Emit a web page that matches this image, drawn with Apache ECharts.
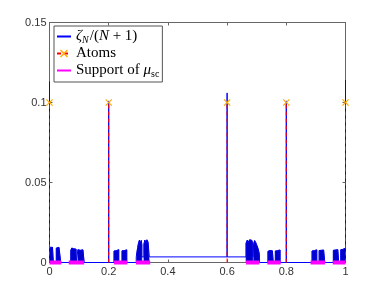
<!DOCTYPE html>
<html>
<head>
<meta charset="utf-8">
<script src="https://cdn.jsdelivr.net/npm/echarts@6/dist/echarts.min.js"></script>
<style>html,body{margin:0;padding:0;background:#fff;}#c{width:382px;height:295px;}</style>
</head>
<body>
<div id="c"></div>
<script>
// ---- data ----
const xTickInterval = 0.2;
const yTickInterval = 0.05;
const xRange = [0, 1];
const yRange = [0, 0.15];

const atomX = [0, 0.2, 0.6, 0.8, 1];
const atomY = [0.1, 0.1, 0.1, 0.1, 0.1];
// height reached by the zeta_N/(N+1) curve at each atom
const spikeY = [0.113, 0.101, 0.106, 0.101, 0.114];

// small constant level of the curve in the middle
const plateauX = [0.293, 0.709];
const plateauY = 0.0035;

// support of mu_sc (intervals on y = 0)
const supportStart = [0.000, 0.065, 0.218, 0.292, 0.664, 0.736, 0.882, 0.957];
const supportEnd   = [0.040, 0.117, 0.263, 0.340, 0.709, 0.781, 0.931, 1.000];

// upper envelopes of the dense oscillating clusters of the curve
const clusters = [
  [[0.000,0.0095],[0.003,0.0080],[0.005,0.0098],[0.008,0.0084],[0.010,0.0097],[0.013,0.0088]],
  [[0.023,0.0090],[0.026,0.0098],[0.029,0.0082],[0.032,0.0095],[0.035,0.0087],[0.038,0.0083]],
  [[0.072,0.0076],[0.075,0.0090],[0.079,0.0078],[0.082,0.0086],[0.086,0.0079],[0.090,0.0083]],
  [[0.096,0.0080],[0.100,0.0087],[0.104,0.0076],[0.108,0.0085],[0.113,0.0079],[0.117,0.0085]],
  [[0.218,0.0072],[0.221,0.0080],[0.225,0.0073],[0.228,0.0081],[0.231,0.0075],[0.234,0.0080]],
  [[0.245,0.0073],[0.248,0.0081],[0.252,0.0074],[0.255,0.0080],[0.258,0.0076],[0.261,0.0079]],
  [[0.295,0.0060],[0.298,0.0095],[0.301,0.0125],[0.304,0.0140],[0.307,0.0118],[0.310,0.0138],[0.312,0.0110]],
  [[0.319,0.0115],[0.322,0.0140],[0.326,0.0124],[0.329,0.0142],[0.333,0.0127],[0.337,0.0135]],
  [[0.664,0.0120],[0.668,0.0140],[0.672,0.0127],[0.676,0.0142],[0.680,0.0133],[0.684,0.0138],[0.687,0.0105]],
  [[0.690,0.0120],[0.693,0.0137],[0.697,0.0124],[0.700,0.0110],[0.704,0.0090],[0.707,0.0070],[0.709,0.0050]],
  [[0.738,0.0070],[0.741,0.0082],[0.745,0.0075],[0.749,0.0081],[0.753,0.0073],[0.756,0.0079]],
  [[0.763,0.0072],[0.766,0.0081],[0.770,0.0074],[0.773,0.0080],[0.776,0.0075],[0.779,0.0078]],
  [[0.887,0.0072],[0.890,0.0081],[0.894,0.0074],[0.897,0.0080],[0.900,0.0075],[0.903,0.0079]],
  [[0.911,0.0075],[0.914,0.0085],[0.918,0.0076],[0.922,0.0086],[0.926,0.0078],[0.930,0.0084]],
  [[0.959,0.0076],[0.962,0.0087],[0.966,0.0078],[0.970,0.0086],[0.974,0.0080],[0.977,0.0085]],
  [[0.984,0.0080],[0.987,0.0090],[0.991,0.0082],[0.994,0.0092],[0.997,0.0084],[1.000,0.0090]]
];

// ---- build series data ----
function base(x){ return (x >= plateauX[0] && x < plateauX[1]) ? plateauY : 0; }
const events = [];
atomX.forEach((x,i)=>{ const b = base(x); events.push({x:x, k:0, pts:[[x,b],[x,spikeY[i]],[x,b]]}); });
clusters.forEach(c=>{
  const x0 = c[0][0], x1 = c[c.length-1][0];
  events.push({x:x0, k:1, pts:[[x0,base(x0)]].concat(c.map(p=>[p[0],p[1]])).concat([[x1,base(x1)]])});
});
events.push({x:plateauX[0], k:0, pts:[[plateauX[0],0],[plateauX[0],plateauY]]});
events.sort((a,b)=> a.x-b.x || a.k-b.k);
const zetaData = [];
events.forEach(e=> e.pts.forEach(p=> zetaData.push(p)));

const fillData = [];
clusters.forEach(c=>{
  const x0 = c[0][0], x1 = c[c.length-1][0];
  fillData.push([x0,0]); c.forEach(p=>fillData.push([p[0],p[1]])); fillData.push([x1,0]); fillData.push(null);
});

// the atoms are stems from 0 to their mass
const xMark = 'path://M0,1.2 L1.2,0 L5,3.8 L8.8,0 L10,1.2 L6.2,5 L10,8.8 L8.8,10 L5,6.2 L1.2,10 L0,8.8 L3.8,5 Z';
const atomData = [];
atomX.forEach((x,i)=>{
  atomData.push({value:[x,0], symbol:'none'});
  atomData.push({value:[x,atomY[i]]});
  atomData.push(null);
});

const supportData = [];
supportStart.forEach((s,i)=>{ supportData.push([s,0]); supportData.push([supportEnd[i],0]); supportData.push(null); });

// ---- layout ----
// visible frame: x 0..1 spans 296 px starting at 49.5
const plotLeft = 49.5, plotRight = 36.5, plotTop = 22.5, plotBottom = 32.5;
const pxPerX = 382 - plotLeft - plotRight;         // 296
// hidden data grid, 0.1 wider on each side, mapping x identically
const pad = 0.1;
const dataGridLeft = plotLeft - pad * pxPerX;
const dataGridRight = plotRight - pad * pxPerX;

const axisCol = '#666';
const labelFont = {color:'#333', fontFamily:'Liberation Sans', fontSize:11};
function xa(pos, show){
  return {type:'value', gridIndex:0, min:xRange[0], max:xRange[1], interval:xTickInterval, position:pos,
    axisLine:{show:true, onZero:false, lineStyle:{color:axisCol, width:1}},
    axisTick:{show:true, inside:true, length:3, lineStyle:{color:axisCol}},
    axisLabel:Object.assign({show:show, margin:4}, labelFont),
    splitLine:{show:false}};
}
function ya(pos, show){
  return {type:'value', gridIndex:0, min:yRange[0], max:yRange[1], interval:yTickInterval, position:pos,
    axisLine:{show:true, onZero:false, lineStyle:{color:axisCol, width:1}},
    axisTick:{show:true, inside:true, length:3, lineStyle:{color:axisCol}},
    axisLabel:Object.assign({show:show, margin:3}, labelFont),
    splitLine:{show:false}};
}
const xHidden = {type:'value', gridIndex:1, show:false, min:xRange[0]-pad, max:xRange[1]+pad, interval:0.1};
const yHidden = {type:'value', gridIndex:1, show:false, min:yRange[0], max:yRange[1], interval:yTickInterval};

const chart = echarts.init(document.getElementById('c'), null, {renderer:'canvas'});
chart.setOption({
  animation:false,
  backgroundColor:'#fff',
  grid:[
    {left:plotLeft, right:plotRight, top:plotTop, bottom:plotBottom},
    {left:dataGridLeft, right:dataGridRight, top:plotTop, bottom:plotBottom}
  ],
  xAxis:[xa('bottom', true), xa('top', false), xHidden],
  yAxis:[ya('left', true), ya('right', false), yHidden],
  legend:{
    data:[{name:'zeta', itemStyle:{opacity:0}}, 'Atoms', {name:'Support', itemStyle:{opacity:0}}],
    orient:'vertical', left:54, top:26, zlevel:2,
    backgroundColor:'#fff', borderColor:'#555', borderWidth:1,
    padding:[2,3,3,2], itemGap:0, itemWidth:14, itemHeight:10,
    formatter:function(n){
      if(n==='zeta') return '{i|ζ}{s|N}{r|/(}{i|N}{r| + 1)}';
      if(n==='Atoms') return '{r|Atoms}';
      return '{r|Support of }{i|μ}{t|sc}';
    },
    textStyle:{fontFamily:'Liberation Serif', fontSize:15, color:'#000', lineHeight:17,
      rich:{
        r:{fontFamily:'Liberation Serif', fontSize:15, color:'#000', lineHeight:17},
        i:{fontFamily:'Liberation Serif', fontStyle:'italic', fontSize:15, color:'#000', lineHeight:17},
        s:{fontFamily:'Liberation Serif', fontStyle:'italic', fontSize:10, color:'#000', lineHeight:17, verticalAlign:'bottom', padding:[5,1,0,0]},
        t:{fontFamily:'Liberation Serif', fontSize:10, color:'#000', lineHeight:17, verticalAlign:'bottom', padding:[5,0,0,0]}
      }}
  },
  series:[
    {name:'zeta', type:'line', xAxisIndex:2, yAxisIndex:2, data:zetaData, symbol:'none', clip:false, zlevel:1,
      lineStyle:{color:'#0000ff', width:1}, itemStyle:{color:'#0000ff'}, z:10},
    {name:'fill', type:'line', xAxisIndex:2, yAxisIndex:2, data:fillData, symbol:'none', connectNulls:false, clip:false, zlevel:1,
      lineStyle:{color:'#0000cc', width:0.6}, areaStyle:{color:'#0000cc', opacity:1}, itemStyle:{color:'#0000cc'}, z:10},
    {name:'Atoms', type:'line', xAxisIndex:2, yAxisIndex:2, data:atomData, symbol:xMark, symbolSize:7, connectNulls:false, clip:false, zlevel:1,
      lineStyle:{color:'#ff0000', width:1, type:[4,3]}, itemStyle:{color:'#ffaa00'}, z:11},
    {name:'Support', type:'line', xAxisIndex:2, yAxisIndex:2, data:supportData, symbol:'none', connectNulls:false, clip:false, zlevel:1,
      lineStyle:{color:'#ff00ff', width:4}, itemStyle:{color:'#ff00ff'}, z:12}
  ]
});
</script>
</body>
</html>
